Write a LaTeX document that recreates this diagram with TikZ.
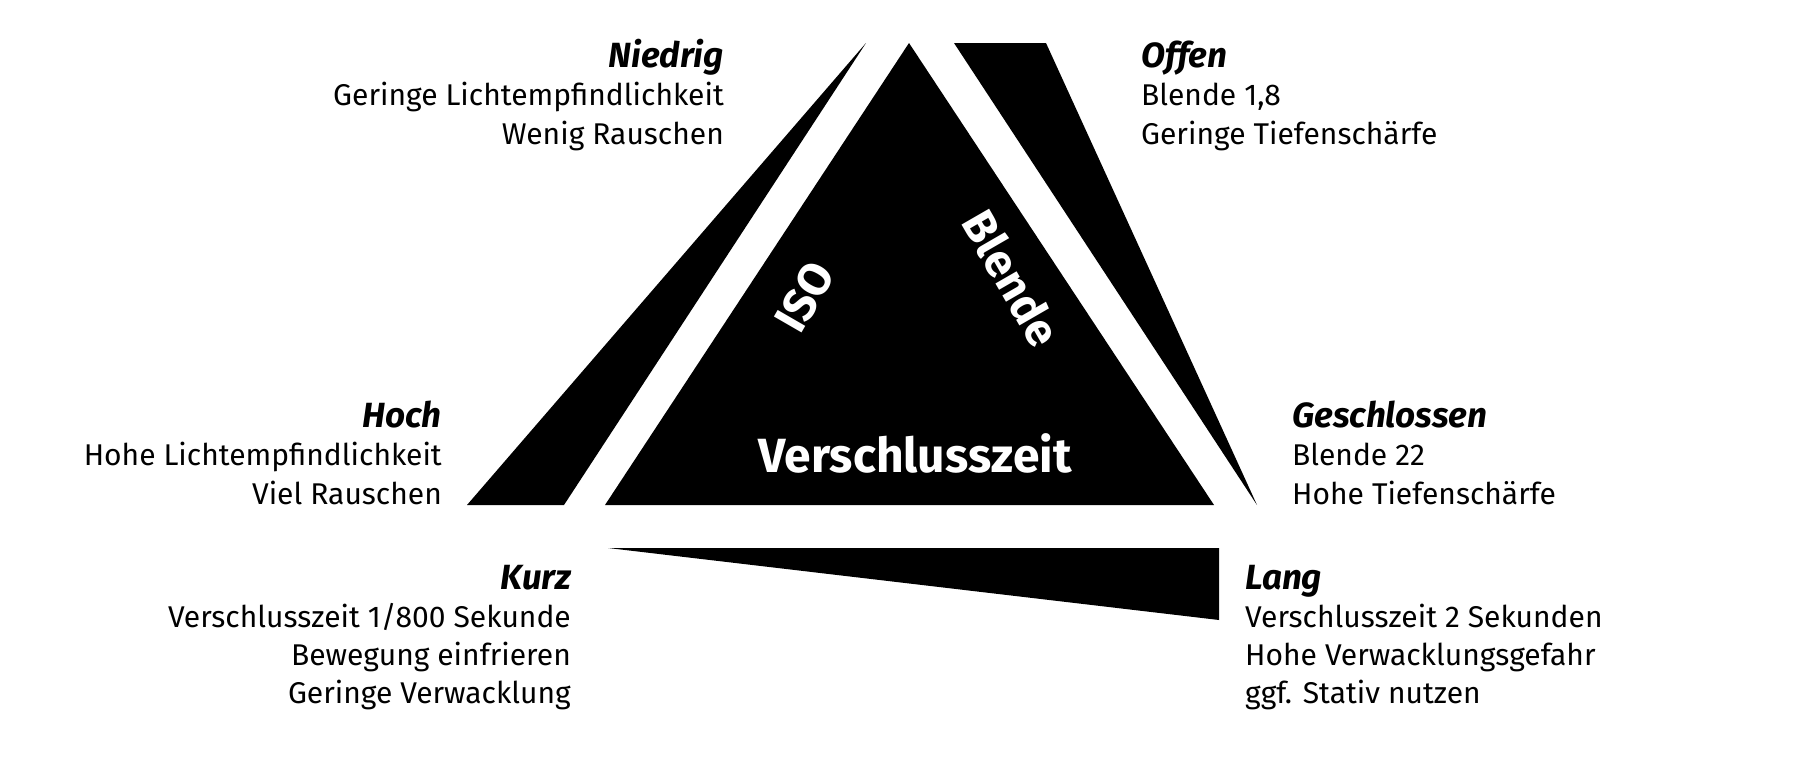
\documentclass[tikz,border=0pt]{standalone}
\usepackage{fontspec}
\setmainfont{Fira Sans}
\begin{document}
\begin{tikzpicture}[x=1pt,y=-1pt,
  body/.style={font=\fontsize{30}{36}\selectfont\fontseries{l}\selectfont, inner sep=0pt},
  ttl/.style={font=\fontsize{35}{40}\selectfont\bfseries\itshape, inner sep=0pt},
  inside/.style={font=\fontsize{48}{54}\selectfont\bfseries, text=white, inner sep=0pt},
  side/.style={font=\fontsize{46}{52}\selectfont\bfseries, text=white, inner sep=0pt},
  wedge/.style={fill=black}]
\useasboundingbox (0,0) rectangle (1800,779);
% shapes
\fill[wedge] (909,43) -- (605,505) -- (1214,505) -- cycle;
\fill[wedge] (866,43) -- (467,505) -- (564,505) -- cycle;
\fill[wedge] (954,43) -- (1046,43) -- (1257,505) -- cycle;
\fill[wedge] (608,548) -- (1219,548) -- (1219,620) -- cycle;
% inside labels
\node[inside] (vz) at (915,453) {Verschlusszeit};
\node[side, rotate=60] (iso) at (805,297) {ISO};
\node[side, rotate=-60] (bl) at (1012,278) {Blende};
% Niedrig
\node[ttl, anchor=base east] (n1) at (724,67) {Niedrig};
\node[body, anchor=base east] (n2) at (724,105) {Geringe Lichtempfindlichkeit};
\node[body, anchor=base east] (n3) at (724,144) {Wenig Rauschen};
% Offen
\node[ttl, anchor=base west] (o1) at (1141,67) {Offen};
\node[body, anchor=base west] (o2) at (1141,105) {Blende 1,8};
\node[body, anchor=base west] (o3) at (1141,144) {Geringe Tiefenschärfe};
% Hoch
\node[ttl, anchor=base east] (h1) at (442,427) {Hoch};
\node[body, anchor=base east] (h2) at (442,465) {Hohe Lichtempfindlichkeit};
\node[body, anchor=base east] (h3) at (442,504) {Viel Rauschen};
% Geschlossen
\node[ttl, anchor=base west] (g1) at (1292,427) {Geschlossen};
\node[body, anchor=base west] (g2) at (1292,465) {Blende 22};
\node[body, anchor=base west] (g3) at (1292,504) {Hohe Tiefenschärfe};
% Kurz
\node[ttl, anchor=base east] (k1) at (571,589) {Kurz};
\node[body, anchor=base east] (k2) at (571,627) {Verschlusszeit 1/800 Sekunde};
\node[body, anchor=base east] (k3) at (571,665) {Bewegung einfrieren};
\node[body, anchor=base east] (k4) at (571,703) {Geringe Verwacklung};
% Lang
\node[ttl, anchor=base west] (l1) at (1245,589) {Lang};
\node[body, anchor=base west] (l2) at (1245,627) {Verschlusszeit 2 Sekunden};
\node[body, anchor=base west] (l3) at (1245,665) {Hohe Verwacklungsgefahr};
\node[body, anchor=base west] (l4) at (1245,703) {ggf. Stativ nutzen};
\end{tikzpicture}
\end{document}
